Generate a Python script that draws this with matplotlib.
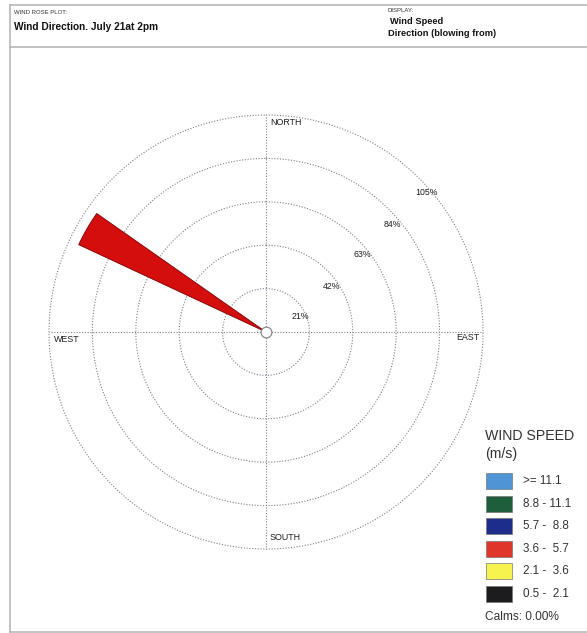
import numpy as np
import matplotlib
matplotlib.use("Agg")
import matplotlib.pyplot as plt
from matplotlib.lines import Line2D
from matplotlib.patches import Rectangle

# ---- data ----
speed_bins = [">= 11.1", "8.8 - 11.1", "5.7 -  8.8", "3.6 -  5.7", "2.1 -  3.6", "0.5 -  2.1"]
bin_colors = ["#4f95d6", "#1e5e3c", "#1c2d8c", "#e0352a", "#f6f24e", "#1c1c1e"]
sector_dirs = [300]            # degrees, blowing from
sector_freq = {"3.6 -  5.7": [100.0]}   # percent per sector
sector_width = 10
ring_levels = [21, 42, 63, 84, 105]
compass = ["NORTH", "EAST", "SOUTH", "WEST"]
calms = 0.00

W, H = 587, 633
FONT = "Liberation Sans"
GRID = "#7f7f90"
INK = "#1e1e1e"


def px(x, y):
    return x / W, 1 - y / H


fig = plt.figure(figsize=(W / 100, H / 100), dpi=100)
fig.patch.set_facecolor("white")

# page frame + header box
frame = "#b8b8b8"
for xs, ys in [((10, 587), (5, 5)), ((10, 587), (47, 47)), ((10, 10), (5, 632)),
               ((10, 587), (632, 632))]:
    fig.add_artist(Line2D([xs[0] / W, xs[1] / W], [1 - ys[0] / H, 1 - ys[1] / H],
                          color=frame, lw=1.2))

fig.text(*px(14, 12), "WIND ROSE PLOT:", fontsize=4.3, family=FONT, va="center", color="#333")
fig.text(*px(14, 27), "Wind Direction. July 21at 2pm", fontsize=7.3, family=FONT,
         weight="bold", va="center", color="#111")
fig.text(*px(387, 11), "DISPLAY:", fontsize=4.3, family=FONT, va="center", color="#333")
fig.text(*px(390, 22), "Wind Speed", fontsize=6.7, family=FONT, weight="bold", va="center", color="#111")
fig.text(*px(388, 34), "Direction (blowing from)", fontsize=6.7, family=FONT, weight="bold",
         va="center", color="#111")

# polar axes centred on (266, 332) px, outer ring radius 217 px
cx, cy, R = 266, 332, 217
ax = fig.add_axes([(cx - R) / W, (H - cy - R) / H, 2 * R / W, 2 * R / H], projection="polar")
ax.set_theta_zero_location("N")
ax.set_theta_direction(-1)
ax.set_ylim(0, ring_levels[-1])
ax.grid(False)
ax.set_xticks([])
ax.set_yticks([])
ax.spines["polar"].set_visible(False)
ax.patch.set_alpha(0)

t = np.linspace(0, 2 * np.pi, 400)
for r in ring_levels:
    ax.plot(t, np.full_like(t, r), ls=(0, (1, 1.5)), color=GRID, lw=0.8, clip_on=False)
for a in range(0, 360, 90):
    ax.plot([np.radians(a)] * 2, [0, ring_levels[-1]], ls=(0, (1, 1.5)), color=GRID, lw=0.8,
            clip_on=False)

# stacked sectors
theta = np.radians(sector_dirs)
bottom = np.zeros(len(sector_dirs))
for lab, col in zip(speed_bins[::-1], bin_colors[::-1]):
    vals = np.array(sector_freq.get(lab, [0.0] * len(sector_dirs)))
    if vals.any():
        ax.bar(theta, vals, width=np.radians(sector_width), bottom=bottom,
               color="#d40d0d", edgecolor="#7a0000", lw=0.6, zorder=3)
    bottom += vals

ax.scatter([0], [0], s=60, facecolor="white", edgecolor="#888", lw=0.9, zorder=5, clip_on=False)

# ring labels (bearing, radius in data units)
label_spots = [(66, 18.0), (55, 38.5), (51, 59.9), (49.4, 80.3), (49, 102.6)]
for r, (b, rr) in zip(ring_levels, label_spots):
    ax.text(np.radians(b), rr, f"{r}%", fontsize=6.3, family=FONT,
            ha="center", va="center", color=INK)

# compass labels
comp_pos = {"NORTH": (270, 122, "left"), "EAST": (479, 338, "right"),
            "SOUTH": (270, 537, "left"), "WEST": (54, 340, "left")}
for name in compass:
    x, y, ha = comp_pos[name]
    fig.text(*px(x, y), name, fontsize=6.4, family=FONT, ha=ha, va="center", color=INK)

# legend
fig.text(*px(485, 436), "WIND SPEED", fontsize=10.2, family=FONT, va="center", color="#333")
fig.text(*px(485, 454), "(m/s)", fontsize=10.2, family=FONT, va="center", color="#333")
for i, (lab, col) in enumerate(zip(speed_bins, bin_colors)):
    yc = 481 + i * 22.6
    x0, y0 = px(486, yc + 8)
    fig.add_artist(Rectangle((x0, y0), 26 / W, 16 / H, facecolor=col,
                             edgecolor="#777", lw=0.5, transform=fig.transFigure))
    fig.text(*px(523, yc), lab, fontsize=8.4, family=FONT, va="center", color="#333")
fig.text(*px(485, 617), f"Calms: {calms:.2f}%", fontsize=8.6, family=FONT, va="center", color="#333")

fig.savefig("out.png", dpi=100, facecolor="white")
